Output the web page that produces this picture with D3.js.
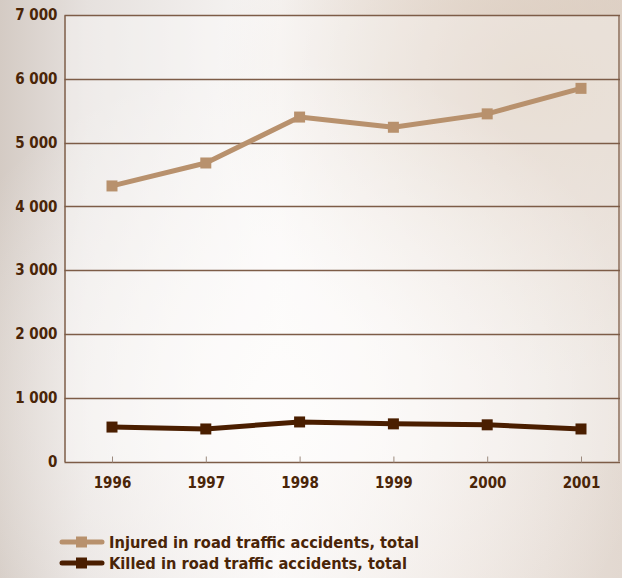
<!DOCTYPE html>
<html>
<head>
<meta charset="utf-8">
<script src="https://cdn.jsdelivr.net/npm/d3@7"></script>
<style>
  body { margin: 0; }
  svg { display: block; font-family: "DejaVu Sans Condensed", "DejaVu Sans", sans-serif; }
</style>
</head>
<body>
<svg id="chart" width="622" height="578"></svg>
<script>
const years = ['1996', '1997', '1998', '1999', '2000', '2001'];
const injured = [4320, 4680, 5400, 5240, 5450, 5850];
const killed = [540, 510, 620, 590, 575, 510];
const yTicks = [0, 1000, 2000, 3000, 4000, 5000, 6000, 7000];
const seriesNames = ['Injured in road traffic accidents, total', 'Killed in road traffic accidents, total'];

const width = 622;
const height = 578;
const margin = { top: 15, right: 2, bottom: 116, left: 64.5 };
const textColor = '#4a2508';
const gridColor = '#7d5c47';
const colors = ['#b8916d', '#4a1e00'];

const svg = d3.select('#chart');

// background: soft beige / grey wash
const defs = svg.append('defs');
const bg = defs.append('linearGradient').attr('id', 'bg').attr('x1', 0).attr('x2', 1).attr('y1', 0).attr('y2', 0);
bg.append('stop').attr('offset', '0%').attr('stop-color', '#d4cbc4');
bg.append('stop').attr('offset', '14%').attr('stop-color', '#e6e1de');
bg.append('stop').attr('offset', '45%').attr('stop-color', '#f8f6f5');
bg.append('stop').attr('offset', '75%').attr('stop-color', '#ece4de');
bg.append('stop').attr('offset', '100%').attr('stop-color', '#e2d8d0');
const glow = defs.append('radialGradient').attr('id', 'glow').attr('cx', 0.45).attr('cy', 0.7).attr('r', 0.6);
glow.append('stop').attr('offset', '0%').attr('stop-color', '#fdfbfa').attr('stop-opacity', 0.95);
glow.append('stop').attr('offset', '100%').attr('stop-color', '#fdfbfa').attr('stop-opacity', 0);
const warm = defs.append('radialGradient').attr('id', 'warm').attr('cx', 0.85).attr('cy', 0.15).attr('r', 0.5);
warm.append('stop').attr('offset', '0%').attr('stop-color', '#d9c8b8').attr('stop-opacity', 0.8);
warm.append('stop').attr('offset', '100%').attr('stop-color', '#d9c8b8').attr('stop-opacity', 0);

svg.append('rect').attr('width', width).attr('height', height).attr('fill', 'url(#bg)');
svg.append('rect').attr('width', width).attr('height', height).attr('fill', 'url(#warm)');
svg.append('rect').attr('width', width).attr('height', height).attr('fill', 'url(#glow)');

const x = d3.scalePoint()
  .domain(years)
  .range([margin.left + 47.5, width - margin.right - 39]);

const y = d3.scaleLinear()
  .domain([0, 7000])
  .range([height - margin.bottom - 0.5, margin.top]);

const plotLeft = margin.left;
const plotRight = width - margin.right;

// plot area slight white wash
svg.append('rect')
  .attr('x', plotLeft).attr('y', y(7000))
  .attr('width', plotRight - plotLeft).attr('height', y(0) - y(7000))
  .attr('fill', '#ffffff').attr('opacity', 0.35);

// gridlines
svg.append('g')
  .selectAll('line')
  .data(yTicks.filter(d => d > 0))
  .join('line')
  .attr('x1', plotLeft).attr('x2', plotRight)
  .attr('y1', d => Math.round(y(d)) + 0.5).attr('y2', d => Math.round(y(d)) + 0.5)
  .attr('stroke', gridColor).attr('stroke-width', 1.3);

// right border
svg.append('line')
  .attr('x1', plotRight - 1).attr('x2', plotRight - 1)
  .attr('y1', y(7000)).attr('y2', y(0))
  .attr('stroke', gridColor).attr('stroke-width', 1.3);

// y axis
const yAxis = svg.append('g')
  .attr('transform', `translate(${plotLeft},0)`)
  .call(d3.axisLeft(y).tickValues(yTicks).tickSize(0).tickPadding(7)
    .tickFormat(d => d3.format(',')(d).replace(/,/g, ' ')));
yAxis.select('.domain').attr('stroke', gridColor).attr('stroke-width', 1.5);
yAxis.selectAll('text')
  .attr('fill', textColor).attr('font-size', 15).attr('font-weight', 'bold')
  .attr('font-family', '"DejaVu Sans Condensed", "DejaVu Sans", sans-serif');

// x axis
const xAxis = svg.append('g')
  .attr('transform', `translate(0,${Math.round(y(0)) + 0.5})`)
  .call(d3.axisBottom(x).tickSize(-6).tickPadding(15));
xAxis.select('.domain').attr('stroke', gridColor).attr('stroke-width', 1.5)
  .attr('d', `M${plotLeft},0H${plotRight}`);
xAxis.selectAll('.tick line').attr('stroke', '#9c8a7e').attr('stroke-width', 1);
xAxis.selectAll('text')
  .attr('fill', textColor).attr('font-size', 15).attr('font-weight', 'bold')
  .attr('font-family', '"DejaVu Sans Condensed", "DejaVu Sans", sans-serif');

const line = d3.line()
  .x((d, i) => x(years[i]))
  .y(d => y(d));

const series = [injured, killed];
series.forEach((vals, si) => {
  const g = svg.append('g');
  g.append('path')
    .datum(vals)
    .attr('d', line)
    .attr('fill', 'none')
    .attr('stroke', colors[si])
    .attr('stroke-width', 5)
    .attr('stroke-linejoin', 'round');
  g.selectAll('rect')
    .data(vals)
    .join('rect')
    .attr('x', (d, i) => x(years[i]) - 5.5)
    .attr('y', d => y(d) - 5.5)
    .attr('width', 11)
    .attr('height', 11)
    .attr('fill', colors[si]);
});

// legend
const legend = svg.append('g').attr('transform', 'translate(62,542)');
seriesNames.forEach((name, i) => {
  const row = legend.append('g').attr('transform', `translate(0,${i * 21})`);
  row.append('line')
    .attr('x1', 0).attr('x2', 40)
    .attr('stroke', colors[i]).attr('stroke-width', 5).attr('stroke-linecap', 'round');
  row.append('rect')
    .attr('x', 14).attr('y', -5.5).attr('width', 11).attr('height', 11)
    .attr('fill', colors[i]);
  row.append('text')
    .attr('x', 47).attr('dy', '0.36em')
    .attr('fill', textColor).attr('font-size', 16.3).attr('font-weight', 'bold')
    .text(name);
});
</script>
</body>
</html>
